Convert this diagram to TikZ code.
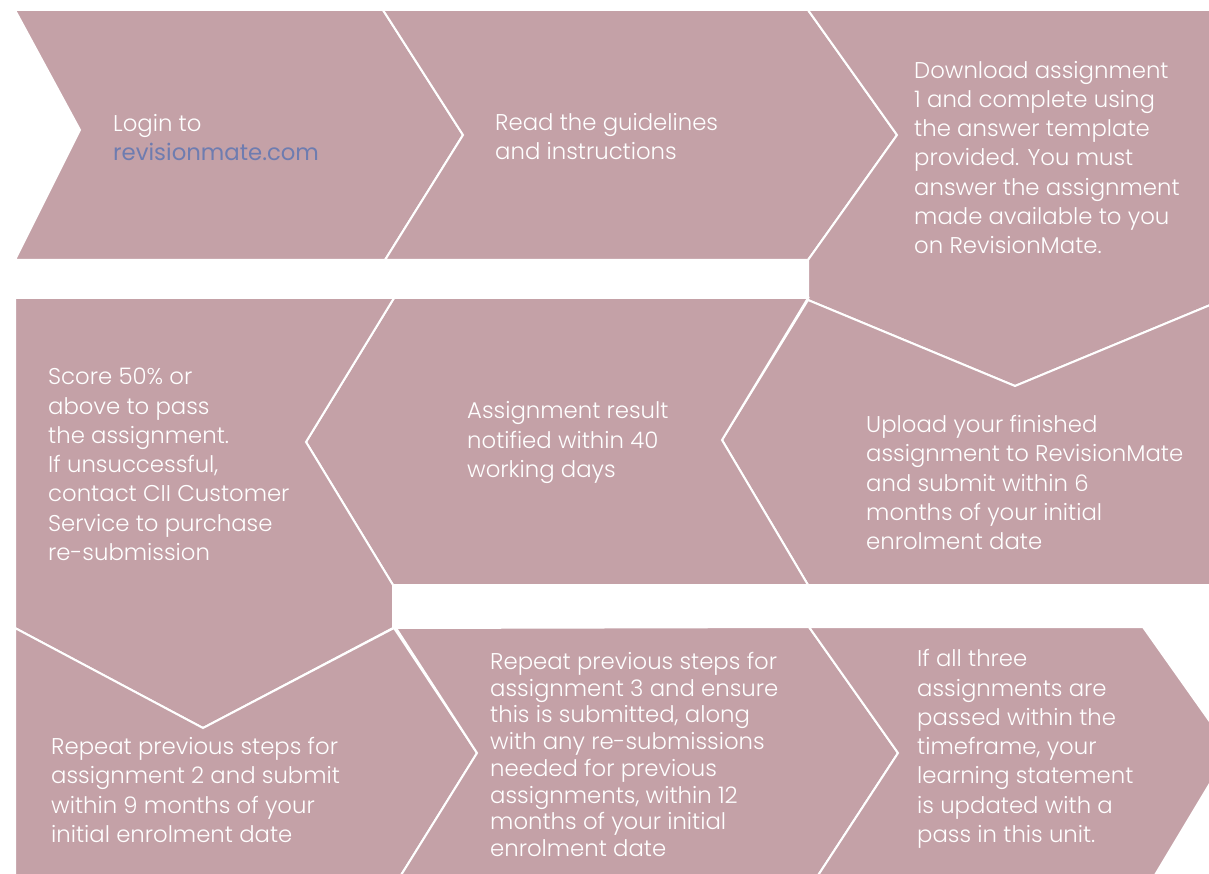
\documentclass[tikz,border=0pt]{standalone}
\usepackage{fontspec}
\setmainfont{Poppins Light}
\newfontfamily\linkfont{Poppins}
\definecolor{mauve}{RGB}{196,161,167}
\definecolor{revblue}{RGB}{110,124,176}
\tikzset{
  panel/.style={fill=mauve,draw=white,line width=2pt,line join=miter},
  steptext/.style={anchor=west,align=left,text=white,inner sep=0pt,
    font=\fontsize{22.8}{29.3}\selectfont}
}
\begin{document}
\begin{tikzpicture}[x=1pt,y=-1pt]
  \useasboundingbox (0,0) rectangle (1209,874);
  \clip (0,0) rectangle (1209,874);

  \draw[panel] (15,10) -- (383,10) -- (463,135) -- (385,260) -- (15,260) -- (80,130) -- cycle;
  \draw[panel] (383,10) -- (808,10) -- (897,135) -- (808,260) -- (385,260) -- (463,135) -- cycle;
  \draw[panel] (808,10) -- (1215,10) -- (1215,303) -- (1015,386) -- (808,300) -- (808,260)
    -- (897,135) -- cycle;
  \draw[panel] (808,300) -- (1015,386) -- (1215,303) -- (1215,585) -- (808,585) -- (722,440) -- cycle;
  \draw[panel] (394,298) -- (808,298) -- (722,440) -- (808,585) -- (393,585) -- (306,442) -- cycle;
  \draw[panel] (15,298) -- (394,298) -- (306,442) -- (393,585) -- (393,628) -- (203,728)
    -- (15,628) -- cycle;
  \draw[panel] (15,628) -- (203,728) -- (394,628) -- (477,753) -- (398,880) -- (15,880) -- cycle;
  \draw[panel] (396,628) -- (809,627) -- (898,753) -- (815,880) -- (398,880) -- (477,753) -- cycle;
  \draw[panel] (809,627) -- (1143,627) -- (1230,750) -- (1152,880) -- (815,880) -- (898,753) -- cycle;

  \node[steptext] (login) at (113,137.5) {Login to\\{\linkfont\color{revblue}revisionmate.com}};
  \node[steptext] (read) at (495,136.5) {Read the guidelines\\and instructions};
  \node[steptext] (download) at (914,157.5) {Download assignment\\1 and complete using\\the answer template\\provided. You must\\answer the assignment\\made available to you\\on RevisionMate.};
  \node[steptext] (upload) at (866,482.5) {Upload your finished\\assignment to RevisionMate\\and submit within 6\\months of your initial\\enrolment date};
  \node[steptext] (result) at (467,442.5) {Assignment result\\notified within 40\\working days};
  \node[steptext] (score) at (48,464.5) {Score 50\% or\\above to pass\\the assignment.\\If unsuccessful,\\contact CII Customer\\Service to purchase\\re-submission};
  \node[steptext] (repeat2) at (51,790) {Repeat previous steps for\\assignment 2 and submit\\within 9 months of your\\initial enrolment date};
  \node[steptext,font=\fontsize{22.8}{26.7}\selectfont] (repeat3) at (490,754.5) {Repeat previous steps for\\assignment 3 and ensure\\this is submitted, along\\with any re-submissions\\needed for previous\\assignments, within 12\\months of your initial\\enrolment date};
  \node[steptext] (passed) at (917,749) {If all three\\assignments are\\passed within the\\timeframe, your\\learning statement\\is updated with a\\pass in this unit.};
\end{tikzpicture}
\end{document}
